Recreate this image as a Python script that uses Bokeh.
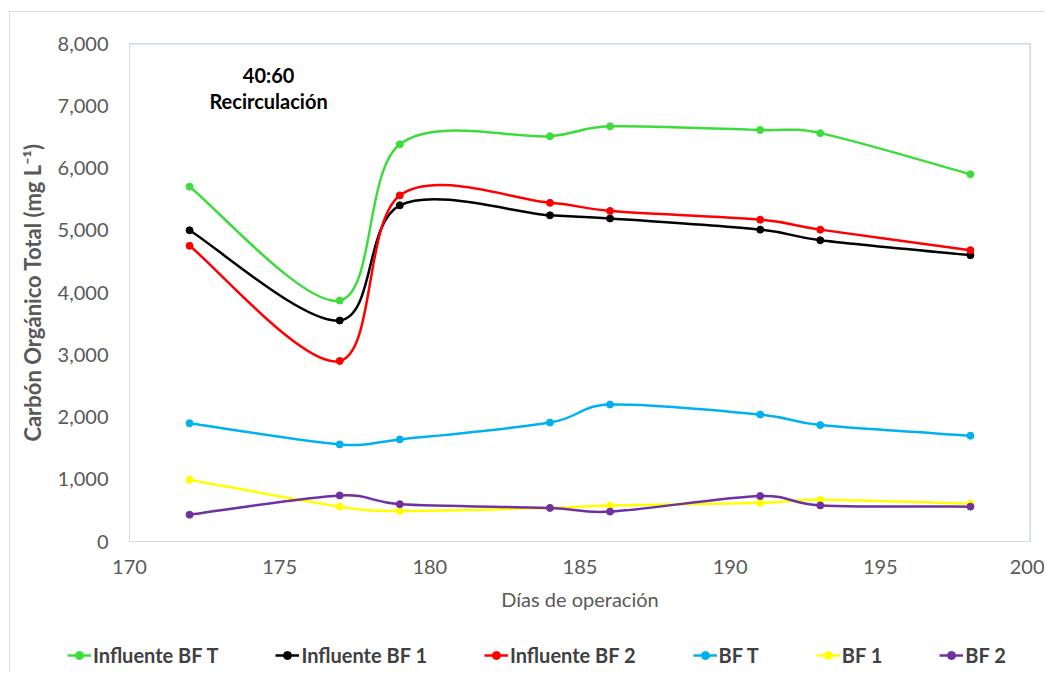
import math
from bokeh.plotting import figure
from bokeh.layouts import column, row
from bokeh.models import (ColumnDataSource, Legend, LegendItem, Label, Span,
                          NumeralTickFormatter, Range1d)
from bokeh.embed import file_html
from bokeh.resources import INLINE

# ---- data ----
days = [172, 177, 179, 184, 186, 191, 193, 198]
influente_bf_t = [5700, 3870, 6380, 6510, 6670, 6610, 6560, 5900]
influente_bf_1 = [5000, 3550, 5400, 5240, 5190, 5010, 4840, 4600]
influente_bf_2 = [4750, 2900, 5560, 5440, 5310, 5170, 5010, 4680]
bf_t = [1900, 1560, 1640, 1910, 2200, 2040, 1870, 1700]
bf_1 = [990, 560, 490, 540, 580, 620, 670, 610]
bf_2 = [430, 740, 600, 540, 480, 730, 580, 560]

series_names = ["Influente BF T", "Influente BF 1", "Influente BF 2", "BF T", "BF 1", "BF 2"]
series_values = [influente_bf_t, influente_bf_1, influente_bf_2, bf_t, bf_1, bf_2]
series_colors = ["#3ddc3d", "#000000", "#ff0000", "#00b0f0", "#ffff00", "#7030a0"]

x_ticks = [170, 175, 180, 185, 190, 195, 200]
y_ticks = [0, 1000, 2000, 3000, 4000, 5000, 6000, 7000, 8000]

X_MIN, X_MAX = 170, 200
Y_MIN, Y_MAX = 0, 8000

FRAME_W, FRAME_H = 901, 498
FONT = "Lato"
GRAY = "#595959"


def smooth_segments(xs, ys):
    """Excel-like smoothed line: cubic Bezier control points for each segment."""
    kx = FRAME_W / (X_MAX - X_MIN)
    ky = FRAME_H / (Y_MAX - Y_MIN)

    def dist(a, b):
        return math.hypot((a[0] - b[0]) * kx, (a[1] - b[1]) * ky)

    pts = list(zip(xs, ys))
    n = len(pts)
    seg = dict(x0=[], y0=[], x1=[], y1=[], cx0=[], cy0=[], cx1=[], cy1=[])
    for i in range(n - 1):
        p1, p2 = pts[i], pts[i + 1]
        p0 = pts[i - 1] if i > 0 else p1
        p3 = pts[i + 2] if i + 2 < n else p2
        d12 = dist(p1, p2)
        d02 = dist(p0, p2)
        d13 = dist(p1, p3)
        f1 = f2 = 1.0 / 6.0
        if d02 * f1 > d12 / 2 and d02 > 0:
            f1 = d12 / 2 / d02
        if d13 * f2 > d12 / 2 and d13 > 0:
            f2 = d12 / 2 / d13
        seg["x0"].append(p1[0]); seg["y0"].append(p1[1])
        seg["x1"].append(p2[0]); seg["y1"].append(p2[1])
        seg["cx0"].append(p1[0] + f1 * (p2[0] - p0[0]))
        seg["cy0"].append(p1[1] + f1 * (p2[1] - p0[1]))
        seg["cx1"].append(p2[0] - f2 * (p3[0] - p1[0]))
        seg["cy1"].append(p2[1] - f2 * (p3[1] - p1[1]))
    return seg


p = figure(width=1034, height=610,
           x_range=Range1d(X_MIN, X_MAX), y_range=Range1d(Y_MIN, Y_MAX),
           output_backend="svg", toolbar_location=None,
           min_border_left=119, min_border_top=31,
           min_border_right=14, min_border_bottom=81)

p.grid.visible = False
p.outline_line_color = None
p.background_fill_color = "white"
p.border_fill_color = "white"

# axes
for ax in (p.xaxis, p.yaxis):
    ax.major_tick_line_color = None
    ax.minor_tick_line_color = None
    ax.axis_line_color = "#d9d9d9"
    ax.axis_line_width = 1
    ax.major_label_text_font = FONT
    ax.major_label_text_font_size = "20px"
    ax.major_label_text_color = GRAY
    ax.axis_label_text_font = FONT
    ax.axis_label_text_color = GRAY

p.xaxis.ticker = x_ticks
p.yaxis.ticker = y_ticks
p.yaxis.formatter = NumeralTickFormatter(format="0,0")
p.xaxis.major_label_standoff = 12
p.yaxis.major_label_standoff = 15
p.xaxis.axis_label = "Días de operación"
p.xaxis.axis_label_text_font_style = "normal"
p.xaxis.axis_label_text_font_size = "20px"
p.xaxis.axis_label_standoff = 10
p.yaxis.axis_label = "Carbón Orgánico Total (mg L⁻¹)"
p.yaxis.axis_label_text_font_style = "bold"
p.yaxis.axis_label_text_font_size = "22px"
p.yaxis.axis_label_standoff = 9

# plot-area border (top and right in light blue)
p.add_layout(Span(location=Y_MAX, dimension="width", line_color="#95b3d7", line_width=1.5))
p.add_layout(Span(location=X_MAX, dimension="height", line_color="#95b3d7", line_width=1.5))

for name, vals, col in zip(series_names, series_values, series_colors):
    src = ColumnDataSource(smooth_segments(days, vals))
    p.bezier(x0="x0", y0="y0", x1="x1", y1="y1",
             cx0="cx0", cy0="cy0", cx1="cx1", cy1="cy1",
             source=src, line_color=col, line_width=2.5)
    p.scatter(days, vals, marker="circle", size=7, color=col)

p.add_layout(Label(x=174.63, y=7500, text="40:60", text_align="center",
                   text_baseline="middle", text_font=FONT, text_font_style="bold",
                   text_font_size="20px", text_color="#000000"))
p.add_layout(Label(x=174.63, y=7080, text="Recirculación", text_align="center",
                   text_baseline="middle", text_font=FONT, text_font_style="bold",
                   text_font_size="20px", text_color="#000000"))

# ---- legend strip (separate figure so the legend is not clipped) ----
pl = figure(width=1034, height=50, x_range=Range1d(0, 1), y_range=Range1d(0, 1),
            output_backend="svg", toolbar_location=None,
            x_axis_type=None, y_axis_type=None, min_border=0,
            min_border_left=0, min_border_right=0, min_border_top=0, min_border_bottom=0)
pl.grid.visible = False
pl.outline_line_color = None
pl.background_fill_color = "white"
pl.border_fill_color = "white"

items = []
for name, vals, col in zip(series_names, series_values, series_colors):
    # same series drawn into the legend strip, outside its visible range
    ln = pl.line(days, vals, line_color=col, line_width=2.5)
    sc = pl.scatter(days, vals, marker="circle", size=7, color=col)
    items.append(LegendItem(label=name, renderers=[ln, sc]))

legend = Legend(items=items, orientation="horizontal", location=(57, 5),
                spacing=57, padding=0, margin=0, glyph_width=24, glyph_height=20,
                label_standoff=2, border_line_color=None, background_fill_alpha=0,
                label_text_font=FONT, label_text_font_style="bold",
                label_text_font_size="20px", label_text_color="#404040")
pl.add_layout(legend, "center")

layout = column(p, row(pl), spacing=0)
layout.styles = {"border-left": "1px solid #d9d9d9", "border-top": "1px solid #d9d9d9",
                 "margin-left": "9px", "margin-top": "11px"}

open("out.html", "w").write(file_html(layout, INLINE))
